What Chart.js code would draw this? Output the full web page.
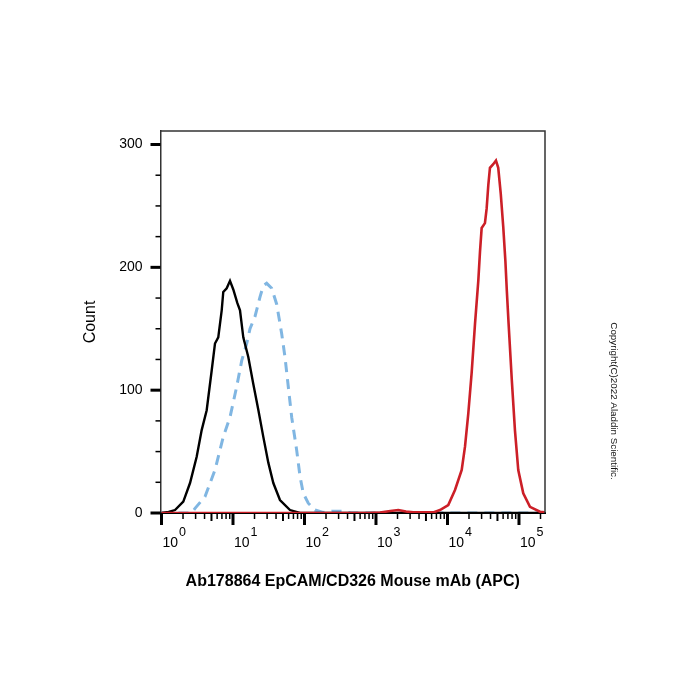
<!DOCTYPE html>
<html>
<head>
<meta charset="utf-8">
<script src="https://cdn.jsdelivr.net/npm/chart.js@4.4.1/dist/chart.umd.min.js"></script>
<style>
  body { margin: 0; background: #fff; }
  canvas { display: block; }
</style>
</head>
<body>
<canvas id="histChart" width="700" height="700"></canvas>
<script>
// values: x as log10 of intensity, y as count
const blackLogX = [0.00, 0.10, 0.189, 0.305, 0.399, 0.492, 0.562, 0.632, 0.702, 0.748, 0.794, 0.842, 0.864, 0.912, 0.958, 1.004, 1.060, 1.098, 1.144, 1.214, 1.284, 1.354, 1.424, 1.494, 1.564, 1.657, 1.797, 1.937, 5.36]
const blackCount = [0, 0.8, 2.4, 9.2, 24.4, 45.8, 67.5, 83.7, 116, 138, 143, 165, 180, 183, 189, 182, 171, 165, 143, 127, 105, 84, 62, 41, 24.4, 10.6, 2.4, 0, 0]

const blueLogX = [0.00, 0.42, 0.469, 0.608, 0.748, 0.864, 0.958, 1.052, 1.122, 1.192, 1.238, 1.308, 1.378, 1.424, 1.471, 1.541, 1.611, 1.681, 1.727, 1.773, 1.821, 1.891, 1.937, 1.983, 2.053, 2.147, 2.26, 2.38, 2.52, 2.65, 5.36]
const blueCount = [0, 0, 3.8, 13.3, 35, 62, 78, 103, 124, 138, 150, 160, 176, 185, 187, 183, 170, 146, 127, 103, 78, 51, 30, 16, 8, 2.4, 0.5, 1.5, 1.5, 0, 0]

const redLogX = [0.00, 2.90, 3.056, 3.20, 3.312, 3.42, 3.52, 3.80, 3.895, 4.011, 4.105, 4.199, 4.245, 4.291, 4.338, 4.385, 4.431, 4.455, 4.478, 4.524, 4.548, 4.571, 4.594, 4.64, 4.678, 4.71, 4.745, 4.78, 4.81, 4.83, 4.855, 4.90, 4.944, 4.99, 5.06, 5.154, 5.294, 5.36]
const redCount = [0, 0, 0.4, 1.6, 2.4, 1.2, 0.5, 0.5, 2.4, 6.5, 18.7, 35, 54, 81, 114, 154, 189, 213, 232, 236, 248, 267, 281, 284, 287, 281, 260, 233, 205, 181, 154, 108, 67, 35, 16, 5, 1, 0.5]

const xDecades = [0, 1, 2, 3, 4, 5]
const yTickValues = [0, 25, 50, 75, 100, 125, 150, 175, 200, 225, 250, 275, 300]

const xTitle = 'Ab178864 EpCAM/CD326 Mouse mAb (APC)'
const yTitle = 'Count'
const copyright = 'Copyright(C)2022 Aladdin Scientific.'

const font = '"Liberation Sans", Arial, sans-serif'

function toPoints(logs, counts) {
    return logs.map((e, i) => ({ x: Math.pow(10, e), y: counts[i] }))
}

// ticks, decade labels, frame and the side note
const decorPlugin = {
    id: 'decor',
    afterDraw(chart) {
        const c = chart.ctx
        const area = chart.chartArea
        const xs = chart.scales.x
        const ys = chart.scales.y
        c.save()

        // top and right frame
        c.strokeStyle = '#333'
        c.lineWidth = 1.5
        c.beginPath()
        c.moveTo(area.left, area.top)
        c.lineTo(area.right, area.top)
        c.lineTo(area.right, area.bottom)
        c.stroke()

        c.strokeStyle = '#000'
        // y ticks
        yTickValues.forEach(v => {
            const py = ys.getPixelForValue(v)
            const major = v % 100 === 0
            c.lineWidth = major ? 3 : 1.5
            c.beginPath()
            c.moveTo(area.left - (major ? 10 : 5), py)
            c.lineTo(area.left, py)
            c.stroke()
        })

        // x ticks
        xDecades.forEach(k => {
            for (let n = 1; n <= 9; n++) {
                const v = n * Math.pow(10, k)
                if (v > xs.max) break
                const px = xs.getPixelForValue(v)
                let len = 6, w = 1.5
                if (n === 1) { len = 12; w = 3 }
                else if (n === 5) { len = 8; w = 2 }
                c.lineWidth = w
                c.beginPath()
                c.moveTo(px, area.bottom)
                c.lineTo(px, area.bottom + len)
                c.stroke()
            }
        })

        // decade labels 10^k
        c.fillStyle = '#000'
        c.textBaseline = 'alphabetic'
        c.textAlign = 'left'
        xDecades.forEach(k => {
            const px = xs.getPixelForValue(Math.pow(10, k))
            c.font = '14px ' + font
            c.fillText('10', px + 1, 547)
            const w = c.measureText('10').width
            c.font = '12.5px ' + font
            c.fillText(String(k), px + 2 + w, 536)
        })

        // rotated copyright note
        c.translate(614, 401)
        c.rotate(Math.PI / 2)
        c.textAlign = 'center'
        c.textBaseline = 'middle'
        c.font = '9.8px ' + font
        c.fillStyle = '#111'
        c.fillText(copyright, 0, 0)
        c.restore()
    }
}

const ctx = document.getElementById('histChart')

new Chart(ctx, {
    type: 'line',
    data: {
        datasets: [
            {
                label: 'APC',
                data: toPoints(redLogX, redCount),
                borderColor: '#cc1f27',
                borderWidth: 2.6,
                order: 0
            },
            {
                label: 'Unstained',
                data: toPoints(blackLogX, blackCount),
                borderColor: '#000',
                borderWidth: 2.4,
                order: 1
            },
            {
                label: 'Isotype',
                data: toPoints(blueLogX, blueCount),
                borderColor: '#80b6e2',
                borderWidth: 3,
                borderDash: [10, 7],
                order: 2
            }
        ]
    },
    options: {
        responsive: false,
        animation: false,
        elements: {
            point: { radius: 0 },
            line: { tension: 0, fill: false }
        },
        layout: { padding: { left: 0, top: 131, right: 155, bottom: 109 } },
        plugins: {
            legend: { display: false },
            tooltip: { enabled: false }
        },
        scales: {
            x: {
                type: 'logarithmic',
                min: Math.pow(10, -0.014),
                max: Math.pow(10, 5.364),
                grid: { display: false, drawTicks: false },
                border: { display: true, color: '#000', width: 2 },
                ticks: { display: false },
                title: {
                    display: true,
                    text: xTitle,
                    color: '#000',
                    font: { family: font, size: 16, weight: 'bold' },
                    padding: { top: 0, bottom: 0 }
                },
                afterFit(scale) { scale.height = 78 }
            },
            y: {
                min: 0,
                max: 311,
                grid: { display: false, drawTicks: false },
                border: { display: true, color: '#333', width: 1.5 },
                ticks: {
                    stepSize: 100,
                    includeBounds: false,
                    padding: 18,
                    color: '#000',
                    font: { family: font, size: 14 }
                },
                title: {
                    display: true,
                    text: yTitle,
                    color: '#000',
                    font: { family: font, size: 16 },
                    padding: { top: 81, bottom: 0 }
                },
                afterFit(scale) { scale.width = 160.5 }
            }
        }
    },
    plugins: [decorPlugin]
})
</script>
</body>
</html>
